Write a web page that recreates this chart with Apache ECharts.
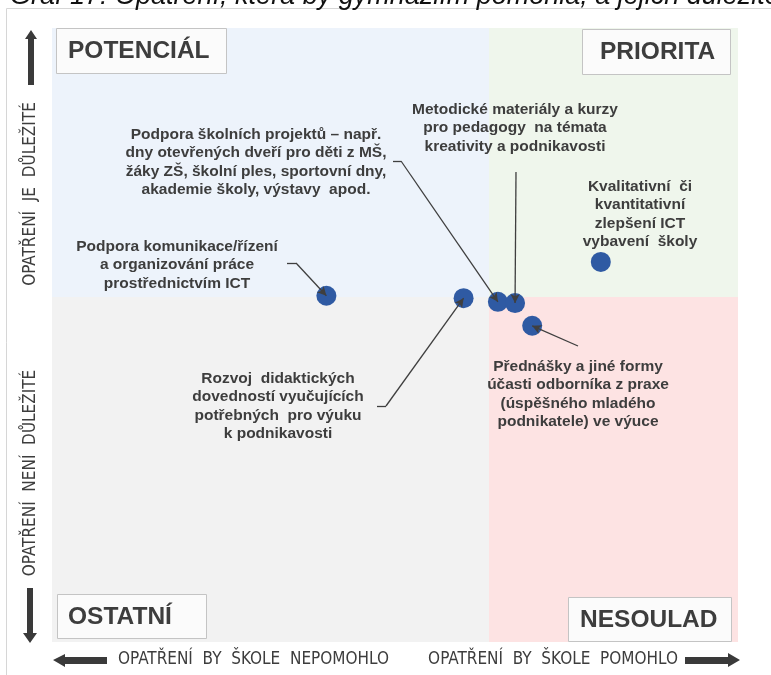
<!DOCTYPE html>
<html>
<head>
<meta charset="utf-8">
<script src="https://cdn.jsdelivr.net/npm/echarts@6/dist/echarts.min.js"></script>
<style>
  html, body { margin: 0; padding: 0; background: #fff; }
  #chart { width: 771px; height: 675px; }
</style>
</head>
<body>
<div id="chart"></div>
<script>
// opatření = body grafu (x: pomohlo by škole, y: důležitost)
const measures = [
  'Podpora komunikace/řízení a organizování práce prostřednictvím ICT',
  'Rozvoj didaktických dovedností vyučujících',
  'Podpora školních projektů',
  'Metodické materiály a kurzy pro pedagogy',
  'Přednášky a jiné formy účasti odborníka z praxe',
  'Kvalitativní či kvantitativní zlepšení ICT vybavení školy'
];
const helpScore = [40, 60, 65, 67.5, 70, 80];
const importanceScore = [56.4, 56.0, 55.4, 55.2, 51.5, 61.9];
const helpSplit = 63.7;
const importanceSplit = 56.2;
const quadrantNames = ['POTENCIÁL', 'PRIORITA', 'OSTATNÍ', 'NESOULAD'];
const calloutTexts = [
  'Podpora komunikace/řízení\na organizování práce\nprostřednictvím ICT',
  'Rozvoj  didaktických\ndovedností vyučujících\npotřebných  pro výuku\nk podnikavosti',
  'Podpora školních projektů – např.\ndny otevřených dveří pro děti z MŠ,\nžáky ZŠ, školní ples, sportovní dny,\nakademie školy, výstavy  apod.',
  'Metodické materiály a kurzy\npro pedagogy  na témata\nkreativity a podnikavosti',
  'Přednášky a jiné formy\núčasti odborníka z praxe\n(úspěšného mladého\npodnikatele) ve výuce',
  'Kvalitativní  či\nkvantitativní\nzlepšení ICT\nvybavení  školy'
];

const GRID = { left: 52, top: 28, right: 33, bottom: 33 };
const W = 771, H = 675;
const TXT = '#3d3d3d';
const NARROW = '"Liberation Sans Narrow", "Arial Narrow", "DejaVu Sans Condensed", sans-serif';
const SANS = '"Liberation Sans", Arial, sans-serif';

// where the callout texts sit and where their leader lines start (px)
const callouts = [
  { cx: 177, cy: 265, path: [[287, 263], [296, 263]] },
  { cx: 278, cy: 406, path: [[377, 406], [386, 406]] },
  { cx: 256, cy: 162, path: [[393, 161], [401, 161]] },
  { cx: 515, cy: 128, path: [[516, 172]] },
  { cx: 578, cy: 394, path: [[578, 346]] },
  { cx: 640, cy: 214, path: null }
];

function fromPx(p) {
  const gw = W - GRID.left - GRID.right, gh = H - GRID.top - GRID.bottom;
  return [(p[0] - GRID.left) / gw * 100, (H - GRID.bottom - p[1]) / gh * 100];
}

const leaderLines = [];
callouts.forEach((c, i) => {
  if (!c.path) return;
  const pts = c.path.map(fromPx);
  for (let k = 0; k < pts.length - 1; k++) {
    leaderLines.push([{ coord: pts[k], symbol: 'none' }, { coord: pts[k + 1], symbol: 'none' }]);
  }
  leaderLines.push([
    { coord: pts[pts.length - 1], symbol: 'none' },
    { coord: [helpScore[i], importanceScore[i]], symbol: 'arrow', symbolSize: [7, 9] }
  ]);
});

function cornerBox(name, x, y, w, h, padL) {
  return {
    type: 'group', x: x, y: y, z: 20,
    children: [
      { type: 'rect', z: 20, shape: { x: 0.5, y: 0.5, width: w, height: h }, style: { fill: '#fbfbfb', stroke: '#c4c4c4', lineWidth: 1 } },
      { type: 'text', z: 21, x: padL, y: h / 2 + 1, style: { text: name, fill: TXT, font: 'bold 24.5px ' + SANS, verticalAlign: 'middle', align: 'left' } }
    ]
  };
}

const graphics = [
  { type: 'rect', shape: { x: 6.5, y: 8.5, width: 800, height: 700 }, style: { fill: 'none', stroke: '#d6d6d6', lineWidth: 1 }, z: 0 },
  { type: 'text', x: 10, y: 10, z: 20, style: { text: 'Graf 17: Opatření, která by gymnáziím pomohla, a jejich důležitost', fill: '#111', font: 'italic 27px ' + SANS, verticalAlign: 'bottom' } },
  cornerBox(quadrantNames[0], 56, 28, 170, 45, 12),
  cornerBox(quadrantNames[1], 582, 29, 148, 45, 18),
  cornerBox(quadrantNames[2], 57, 594, 149, 44, 11),
  cornerBox(quadrantNames[3], 568, 597, 163, 44, 12),
  // y axis descriptions
  { type: 'text', x: 31, y: 194, z: 20, rotation: Math.PI / 2, style: { text: 'OPATŘENÍ  JE  DŮLEŽITÉ', fill: TXT, font: '17px ' + NARROW, align: 'center', verticalAlign: 'middle' } },
  { type: 'text', x: 31, y: 473, z: 20, rotation: Math.PI / 2, style: { text: 'OPATŘENÍ  NENÍ  DŮLEŽITÉ', fill: TXT, font: '17px ' + NARROW, align: 'center', verticalAlign: 'middle' } },
  { type: 'polygon', z: 20, shape: { points: [[31, 30], [37, 39], [34, 39], [34, 85], [28, 85], [28, 39], [25, 39]] }, style: { fill: '#3a3a3a' } },
  { type: 'polygon', z: 20, shape: { points: [[30, 643], [37, 633], [33, 633], [33, 588], [27, 588], [27, 633], [23, 633]] }, style: { fill: '#3a3a3a' } },
  // x axis descriptions
  { type: 'polygon', z: 20, shape: { points: [[53, 660], [65, 654], [65, 657], [107, 657], [107, 664], [65, 664], [65, 667]] }, style: { fill: '#3a3a3a' } },
  { type: 'polygon', z: 20, shape: { points: [[740, 660], [728, 653], [728, 657], [685, 657], [685, 664], [728, 664], [728, 667]] }, style: { fill: '#3a3a3a' } },
  { type: 'text', x: 118, y: 660, z: 20, style: { text: 'OPATŘENÍ  BY  ŠKOLE  NEPOMOHLO', fill: TXT, font: '17px ' + NARROW, align: 'left', verticalAlign: 'middle' } },
  { type: 'text', x: 678, y: 660, z: 20, style: { text: 'OPATŘENÍ  BY  ŠKOLE  POMOHLO', fill: TXT, font: '17px ' + NARROW, align: 'right', verticalAlign: 'middle' } }
];

calloutTexts.forEach((t, i) => {
  graphics.push({
    type: 'text', x: callouts[i].cx, y: callouts[i].cy, z: 20,
    style: { text: t, fill: TXT, font: 'bold 15.5px ' + SANS, align: 'center', verticalAlign: 'middle', lineHeight: 18.5 }
  });
});

const option = {
  animation: false,
  grid: GRID,
  xAxis: { type: 'value', min: 0, max: 100, show: false },
  yAxis: { type: 'value', min: 0, max: 100, show: false },
  graphic: graphics,
  series: [
    {
      name: 'opatření',
      type: 'scatter',
      symbolSize: 20,
      silent: true,
      itemStyle: { color: '#2f5aa3', opacity: 1 },
      data: helpScore.map((x, i) => ({ name: measures[i], value: [x, importanceScore[i]] })),
      markArea: {
        silent: true,
        data: [
          [{ xAxis: 0, yAxis: importanceSplit, itemStyle: { color: '#edf3fb' } }, { xAxis: helpSplit, yAxis: 100 }],
          [{ xAxis: helpSplit, yAxis: importanceSplit, itemStyle: { color: '#eff6ec' } }, { xAxis: 100, yAxis: 100 }],
          [{ xAxis: 0, yAxis: 0, itemStyle: { color: '#f2f2f2' } }, { xAxis: helpSplit, yAxis: importanceSplit }],
          [{ xAxis: helpSplit, yAxis: 0, itemStyle: { color: '#fde3e3' } }, { xAxis: 100, yAxis: importanceSplit }]
        ]
      },
      markLine: {
        silent: true,
        animation: false,
        label: { show: false },
        lineStyle: { color: '#3f3f3f', width: 1.3, type: 'solid' },
        emphasis: { disabled: true },
        data: leaderLines
      }
    }
  ]
};

const chart = echarts.init(document.getElementById('chart'));
chart.setOption(option);
</script>
</body>
</html>
